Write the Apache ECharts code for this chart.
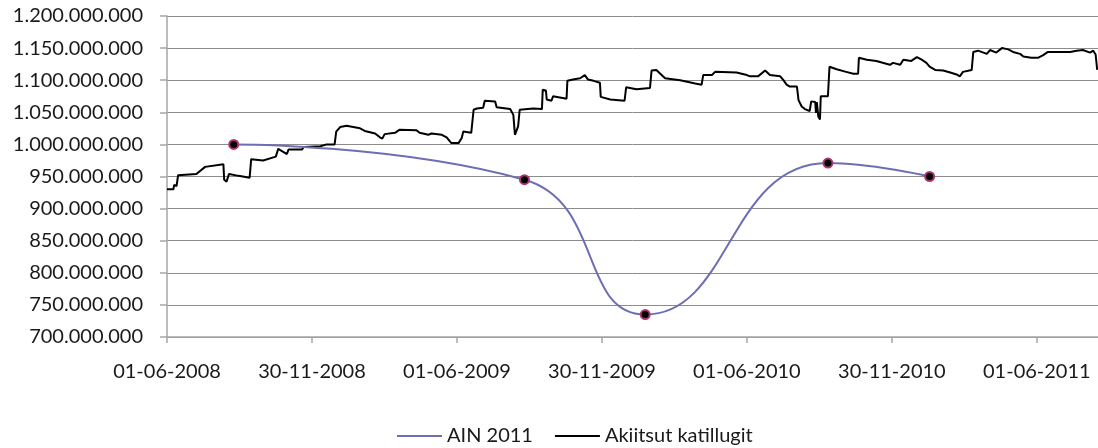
<!DOCTYPE html>
<html>
<head>
<meta charset="utf-8">
<script src="https://cdn.jsdelivr.net/npm/echarts@6/dist/echarts.min.js"></script>
<style>
  html, body { margin: 0; padding: 0; background: #fff; }
</style>
</head>
<body>
<div id="main" style="width: 1098px; height: 448px"></div>
<script>
// x = days since 01-06-2008, y = millions
const xTickDays = [0, 182.5, 365, 547.5, 730, 912.5, 1095];

const ainDays = [84, 450, 602, 832, 960];
const ainValues = [1000, 945, 735, 971, 950];

const kapDays = [
  0, 8, 9, 12, 14, 37, 48, 71, 72, 75, 78, 90, 92, 104, 106, 121, 123, 137, 140, 151, 153, 170, 172, 193, 201, 211, 213, 218, 226, 243, 249, 262, 268, 271, 274, 287, 293,
  314, 318, 329, 333, 346, 352, 358, 367, 371, 373, 383, 386, 390, 398, 400, 413, 415, 432, 436, 438, 442, 444, 461, 472, 473, 477, 478, 484, 486, 503, 504, 511, 520, 526, 530, 537, 545, 546, 558, 576, 578, 591, 608,
  610, 616, 627, 646, 665, 673, 675, 686, 690, 717, 730, 734, 744, 753, 759, 772, 776, 780, 784, 793, 795, 799, 803, 809, 811, 816, 817, 818, 820, 822, 823, 832, 834, 843, 855, 864, 870, 871, 881, 893, 910, 914, 923,
  925, 927, 937, 944, 950, 956, 960, 967, 977, 986, 994, 998, 1002, 1013, 1015, 1021, 1032, 1036, 1044, 1051, 1059, 1065, 1074, 1078, 1088, 1097, 1103, 1109, 1120, 1137, 1145, 1153, 1162, 1166, 1169, 1171
];
const kapValues = [
  930, 930, 937, 935, 952, 954, 965, 969, 945, 942, 954, 951, 948, 948, 977, 975, 978, 981, 993, 985, 992, 992, 996, 997, 1000, 1000, 1020, 1027, 1029, 1025, 1021, 1017, 1011, 1009, 1016, 1018, 1023,
  1022, 1018, 1015, 1017, 1015, 1011, 1002, 1002, 1010, 1020, 1018, 1054, 1056, 1057, 1068, 1067, 1058, 1055, 1046, 1015, 1028, 1054, 1056, 1055, 1085, 1084, 1070, 1068, 1075, 1071, 1099, 1101, 1103, 1108, 1101, 1099, 1096, 1074, 1070, 1068, 1089, 1086, 1088,
  1115, 1116, 1103, 1100, 1095, 1093, 1108, 1108, 1113, 1112, 1108, 1106, 1106, 1115, 1108, 1106, 1100, 1093, 1090, 1090, 1069, 1059, 1055, 1052, 1067, 1066, 1049, 1066, 1043, 1039, 1075, 1075, 1121, 1117, 1113, 1110, 1110, 1135, 1132, 1130, 1124, 1127, 1124,
  1126, 1132, 1130, 1136, 1132, 1127, 1121, 1116, 1115, 1112, 1109, 1106, 1113, 1116, 1144, 1146, 1141, 1147, 1143, 1150, 1148, 1144, 1141, 1137, 1135, 1135, 1139, 1144, 1144, 1144, 1146, 1147, 1143, 1146, 1140, 1116
];

const font = 'Lato';
const textColor = '#1a1a1a';

function dayLabel(v) {
  const d = new Date(Date.UTC(2008, 5, 1) + Math.floor(v) * 86400000);
  const p = n => (n < 10 ? '0' : '') + n;
  return p(d.getUTCDate()) + '-' + p(d.getUTCMonth() + 1) + '-' + d.getUTCFullYear();
}

function dotted(v) {
  return Math.round(v * 1000000).toString().replace(/\B(?=(\d{3})+(?!\d))/g, '.');
}

const myChart = echarts.init(document.getElementById('main'));
const option = {
  animation: false,
  grid: {
    left: 167, right: 0, top: 16, bottom: 111,
    containLabel: false,
    outerBoundsMode: 'none'
  },
  legend: {
    left: 392,
    top: 421,
    icon: 'rect',
    itemWidth: 45,
    itemHeight: 2,
    itemGap: 22,
    textStyle: { fontFamily: font, fontSize: 20, color: textColor },
    data: [
      { name: 'AIN 2011', itemStyle: { color: '#6E6EB4', borderWidth: 0 } },
      { name: 'Akiitsut katillugit', itemStyle: { color: '#000000', borderWidth: 0 } }
    ]
  },
  xAxis: {
    type: 'value',
    min: 0,
    max: 1172,
    splitLine: { show: false },
    axisLine: { show: true, lineStyle: { color: '#a6a6a6', width: 1.5 } },
    axisTick: {
      show: true, length: 6, customValues: xTickDays,
      lineStyle: { color: '#a6a6a6', width: 1.5 }
    },
    axisLabel: {
      customValues: xTickDays,
      margin: 25,
      fontFamily: font, fontSize: 20, color: textColor,
      formatter: dayLabel
    }
  },
  yAxis: {
    type: 'value',
    min: 700,
    max: 1200,
    interval: 50,
    axisLine: { show: true, lineStyle: { color: '#a6a6a6', width: 1.5 } },
    axisTick: { show: true, length: 7, lineStyle: { color: '#a6a6a6', width: 1.5 } },
    splitLine: { show: true, lineStyle: { color: '#8c8c8c', width: 1 } },
    axisLabel: {
      margin: 24,
      fontFamily: font, fontSize: 20, color: textColor,
      formatter: dotted
    }
  },
  series: [
    {
      name: 'AIN 2011',
      type: 'line',
      data: ainDays.map((d, i) => [d, ainValues[i]]),
      smooth: 0.5,
      symbol: 'circle',
      symbolSize: 9,
      z: 3,
      lineStyle: { color: '#6E6EB4', width: 2 },
      itemStyle: { color: '#000000', borderColor: '#A8386F', borderWidth: 2 }
    },
    {
      name: 'Akiitsut katillugit',
      type: 'line',
      data: kapDays.map((d, i) => [d, kapValues[i]]),
      symbol: 'none',
      z: 2,
      lineStyle: { color: '#000000', width: 2 }
    }
  ]
};
myChart.setOption(option);
</script>
</body>
</html>
